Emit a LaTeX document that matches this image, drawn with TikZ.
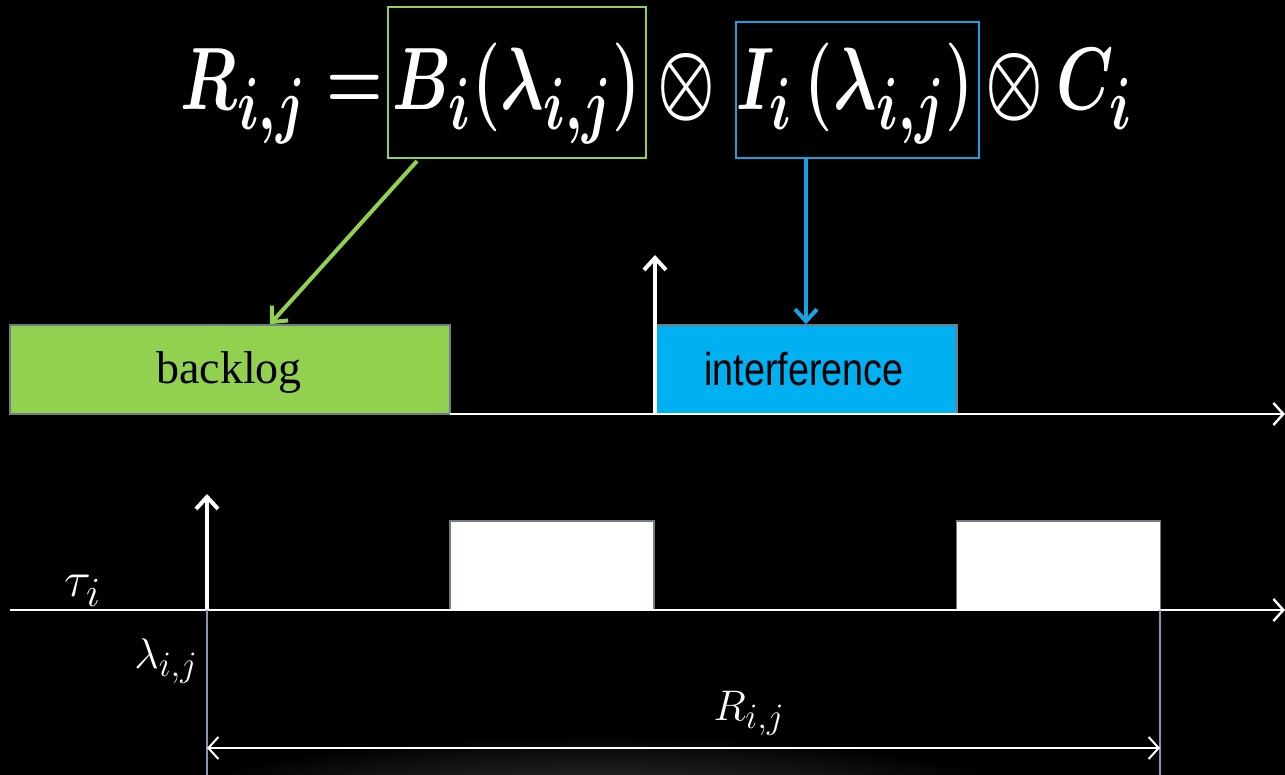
\documentclass[tikz,border=0pt]{standalone}
\usepackage{fontspec}
\usepackage{graphicx}
\usetikzlibrary{arrows.meta}
\newfontfamily\serifT{Liberation Serif}
\newfontfamily\sansA[FakeStretch=0.82]{Liberation Sans}
\definecolor{lgreen}{RGB}{146,208,80}
\definecolor{lblue}{RGB}{0,176,240}
\definecolor{bblue}{RGB}{27,161,226}
\definecolor{steel}{RGB}{132,151,176}
\definecolor{edgegray}{RGB}{110,125,135}
\newcommand{\eqsq}[1]{\scalebox{1.3}[1.78]{\mathversion{bold}$#1$}}
\newcommand{\lblsq}[1]{\scalebox{0.86}{$#1$}}
\tikzset{
  x=0.5pt, y=-0.5pt,
  eqtext/.style={text=white, inner sep=0pt, anchor=base, font=\Huge},
  hbox/.style={draw, line width=1pt, fill=black, inner sep=0pt},
  bar/.style={draw=edgegray, line width=0.8pt, inner sep=0pt, minimum height=44.5pt},
  whitebar/.style={bar, fill=white, minimum width=102pt},
  axis/.style={white, line width=1.2pt, -{Straight Barb[length=5pt,width=11pt]}},
  bigarrow/.style={line width=2pt, -{Straight Barb[length=6pt,width=11pt,line width=2pt]}},
  glabel/.style={text=white, inner sep=0pt, anchor=base, font=\Huge}
}
\begin{document}
\begin{tikzpicture}
\useasboundingbox (0,0) rectangle (1285,775);
\fill[black] (0,0) rectangle (1285,775);
\shade[inner color={rgb,255:red,62;green,62;blue,62}, outer color=black] (600,815) ellipse [x radius=460, y radius=80];
\fill[black] (0,775) rectangle (1285,790);

% equation boxes
\node[hbox, draw=lgreen, minimum width=129pt, minimum height=75.5pt] (Bbox) at (517,82.5) {};
\node[hbox, draw=bblue, minimum width=121.5pt, minimum height=68pt] (Ibox) at (857.5,90) {};

% equation text
\node[eqtext] (eqR) at (282,110) {\eqsq{R_{i,j} =}};
\node[eqtext] (eqB) at (517,110) {\eqsq{B_i\Bigl(\lambda_{i,j}\Bigr)}};
\node[eqtext] (ot1) at (686,110) {\eqsq{\otimes}};
\node[eqtext] (eqI) at (855,110) {\eqsq{I_i\,\Bigl(\lambda_{i,j}\Bigr)}};
\node[eqtext] (eqC) at (1059,110) {\eqsq{\otimes\, C_i}};

% bars
\node[bar, fill=lgreen, minimum width=220pt] (backlog) at (230,369.5) {};
\node[text=black, inner sep=0pt, anchor=base, font=\serifT\fontsize{23}{26}\selectfont] (backlogt) at (229,383) {backlog};
\node[bar, fill=lblue, minimum width=151pt] (interf) at (806,369.5) {};
\node[text=black, inner sep=0pt, anchor=base, font=\sansA\fontsize{23}{26}\selectfont] (interft) at (804,385) {interference};

\node[whitebar] (w1) at (552,565.5) {};
\node[whitebar] (w2) at (1058.5,565.5) {};

% coordinates
\coordinate (ax1s) at (450,414);
\coordinate (ax1e) at (1285,414);
\coordinate (ax2s) at (10,610);
\coordinate (ax2e) at (1285,610);
\coordinate (up1b) at (655,414);
\coordinate (up1t) at (655,255);
\coordinate (up2b) at (207,610);
\coordinate (up2t) at (207,494);
\coordinate (g1t) at (207,610);
\coordinate (g1b) at (207,775);
\coordinate (g2t) at (1160,610);
\coordinate (g2b) at (1160,775);
\coordinate (dL) at (207,748);
\coordinate (dR) at (1160,748);

% axes
\draw[axis] (ax1s) -- (ax1e);
\draw[axis] (ax2s) -- (ax2e);
\draw[white, bigarrow] (up1b) -- (up1t);
\draw[white, bigarrow] (up2b) -- (up2t);

% connectors from equation
\draw[lgreen, bigarrow] (Bbox.south west) ++(30,2) coordinate (gs) -- (backlog.north -| 270,0);
\draw[bblue, bigarrow] (Ibox.south -| 806,0) -- (interf.north -| 806,0);

% gray guides
\draw[steel, line width=1pt] (g1t) -- (g1b);
\draw[steel, line width=1pt] (g2t) -- (g2b);
\draw[white, line width=1pt, {Straight Barb[length=5pt,width=11pt]}-{Straight Barb[length=5pt,width=11pt]}] (dL) -- (dR);

% labels
\node[glabel] (tau) at (83,596) {$\tau_i$};
\node[glabel] (lam) at (166,668) {\lblsq{\lambda_{i,j}}};
\node[glabel] (Rlab) at (749,720) {\lblsq{R_{i,j}}};
\end{tikzpicture}
\end{document}
